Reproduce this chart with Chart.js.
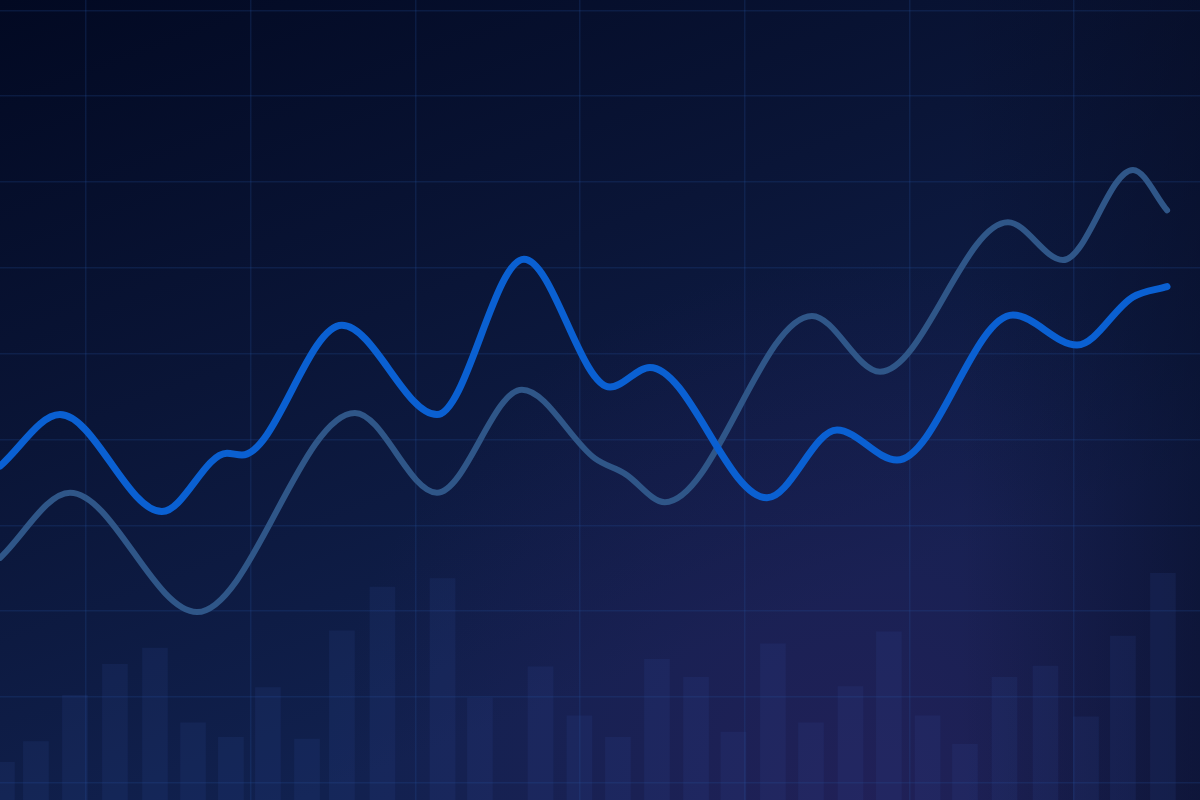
<!DOCTYPE html>
<html>
<head>
<meta charset="utf-8">
<script src="https://cdn.jsdelivr.net/npm/chart.js@4.4.1/dist/chart.umd.min.js"></script>
<style>
  html, body { margin: 0; padding: 0; background: #07102e; }
  #wrap { width: 1200px; height: 800px; position: relative; }
</style>
</head>
<body>
<div id="wrap"><canvas id="c"></canvas></div>
<script>
// ---- data (x in periods, y in index units) ----
const brightX = [-5.22, -1.58, 4.61, 8.56, 9.47, 15.54, 21.31, 26.59, 31.82, 34.24, 41.35, 45.60, 49.24, 56.28, 60.17, 63.57, 65.64];
const brightY = [36.9, 42.9, 31.6, 38.4, 38.2, 53.3, 42.9, 61.0, 46.1, 48.4, 33.2, 41.1, 37.6, 54.5, 51.0, 56.6, 57.8];

const mutedX = [-5.22, -0.97, 6.74, 16.33, 21.31, 26.47, 30.90, 32.73, 35.15, 44.08, 48.21, 55.98, 59.32, 63.57, 65.64];
const mutedY = [26.2, 33.8, 19.9, 43.1, 33.8, 45.8, 37.8, 36.0, 32.7, 54.4, 47.9, 65.3, 60.9, 71.4, 66.7];

const barX = [-5.1, -3.04, -0.67, 1.76, 4.19, 6.50, 8.80, 11.05, 13.42, 15.54, 18.0, 21.65, 23.92, 27.6, 29.96, 32.30, 34.67, 37.04, 39.31, 41.71, 44.02, 46.42, 48.75, 51.10, 53.37, 55.77, 58.26, 60.72, 62.96, 65.39];
const barY = [2.4, 4.8, 10.2, 13.8, 15.7, 7.0, 5.3, 11.1, 5.1, 17.7, 22.8, 23.8, 9.9, 13.5, 7.8, 5.3, 14.4, 12.3, 5.9, 16.2, 7.0, 11.2, 17.6, 7.8, 4.5, 12.3, 13.6, 7.7, 17.1, 24.4];

const xGridStep = 10;
const yGridStep = 10;

// ---- build points ----
const toPts = (xs, ys) => xs.map((x, i) => ({ x: x, y: ys[i] }));

const bgPlugin = {
  id: 'bg',
  beforeDraw(chart) {
    const { ctx, width, height } = chart;
    ctx.save();
    const g = ctx.createLinearGradient(0, 0, width * 0.25, height);
    g.addColorStop(0, '#020922');
    g.addColorStop(0.5, '#0a1537');
    g.addColorStop(1, '#11214f');
    ctx.fillStyle = g;
    ctx.fillRect(0, 0, width, height);
    // purple glow lower right-center
    const r = ctx.createRadialGradient(width * 0.72, height, 0, width * 0.72, height, width * 0.45);
    r.addColorStop(0, 'rgba(48,32,96,0.5)');
    r.addColorStop(1, 'rgba(48,32,96,0)');
    ctx.fillStyle = r;
    ctx.fillRect(0, 0, width, height);
    // right edge darkening
    const e = ctx.createLinearGradient(width * 0.8, 0, width, 0);
    e.addColorStop(0, 'rgba(4,8,28,0)');
    e.addColorStop(1, 'rgba(4,8,28,0.45)');
    ctx.fillStyle = e;
    ctx.fillRect(0, 0, width, height);
    ctx.restore();
  }
};

const gridColor = 'rgba(35,80,160,0.22)';

new Chart(document.getElementById('c'), {
  type: 'bar',
  data: {
    datasets: [
      {
        type: 'line',
        data: toPts(brightX, brightY),
        borderColor: '#0a60d2',
        borderWidth: 7,
        borderCapStyle: 'round',
        borderJoinStyle: 'round',
        pointRadius: 0,
        cubicInterpolationMode: 'monotone',
        fill: false,
        order: 0
      },
      {
        type: 'line',
        data: toPts(mutedX, mutedY),
        borderColor: '#2f5688',
        borderWidth: 6,
        borderCapStyle: 'round',
        borderJoinStyle: 'round',
        pointRadius: 0,
        cubicInterpolationMode: 'monotone',
        fill: false,
        order: 1
      },
      {
        type: 'bar',
        data: toPts(barX, barY),
        backgroundColor: 'rgba(55,85,170,0.13)',
        borderWidth: 0,
        barThickness: 25,
        base: -2,
        order: 2
      }
    ]
  },
  options: {
    responsive: true,
    maintainAspectRatio: false,
    animation: false,
    events: [],
    layout: { padding: 0, autoPadding: false },
    plugins: { legend: { display: false }, tooltip: { enabled: false }, title: { display: false } },
    scales: {
      x: {
        type: 'linear',
        offset: false,
        min: -5.22,
        max: 67.64,
        border: { display: false },
        grid: { color: gridColor, lineWidth: 1.5, drawTicks: false, offset: false },
        ticks: { display: false, stepSize: xGridStep, includeBounds: false }
      },
      y: {
        type: 'linear',
        min: -2,
        max: 91.2,
        border: { display: false },
        grid: { color: gridColor, lineWidth: 1.5, drawTicks: false },
        ticks: { display: false, stepSize: yGridStep, includeBounds: false }
      }
    }
  },
  plugins: [bgPlugin]
});
</script>
</body>
</html>
